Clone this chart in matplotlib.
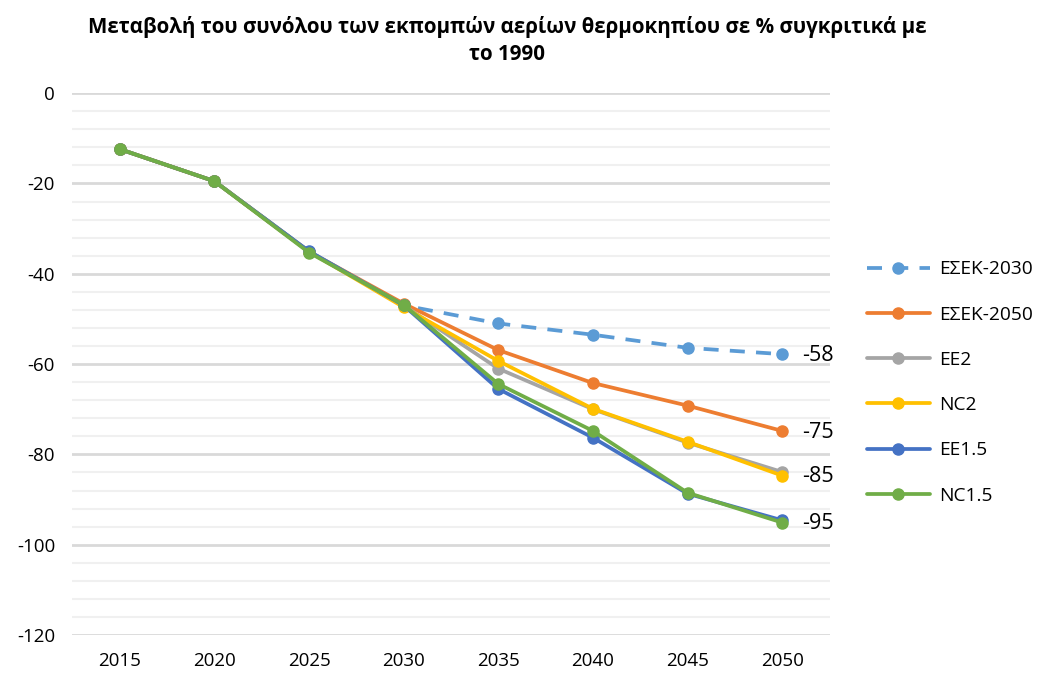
import matplotlib
matplotlib.use("Agg")
import matplotlib.pyplot as plt
import numpy as np
from matplotlib.ticker import MultipleLocator

plt.rcParams['font.family'] = ['Open Sans', 'DejaVu Sans']
plt.rcParams['axes.unicode_minus'] = False

years = ['2015', '2020', '2025', '2030', '2035', '2040', '2045', '2050']
series_names = ['ΕΣΕΚ-2030', 'ΕΣΕΚ-2050', 'EE2', 'NC2', 'EE1.5', 'NC1.5']
esek2030 = [-12.4, -19.5, -35.1, -47.0, -51.0, -53.5, -56.4, -57.8]
esek2050 = [-12.4, -19.5, -35.1, -46.6, -56.9, -64.2, -69.2, -74.8]
ee2 = [-12.4, -19.5, -35.1, -47.0, -61.0, -70.0, -77.4, -83.9]
nc2 = [-12.4, -19.5, -35.1, -47.4, -59.3, -69.9, -77.2, -84.7]
ee15 = [-12.4, -19.5, -35.0, -47.0, -65.5, -76.3, -88.7, -94.6]
nc15 = [-12.4, -19.5, -35.3, -46.9, -64.4, -74.8, -88.5, -95.1]
end_labels = {'ΕΣΕΚ-2030': '-58', 'ΕΣΕΚ-2050': '-75', 'NC2': '-85', 'NC1.5': '-95'}

colors = ['#5B9BD5', '#ED7D31', '#A5A5A5', '#FFC000', '#4472C4', '#70AD47']
data = [esek2030, esek2050, ee2, nc2, ee15, nc15]

fig = plt.figure(figsize=(10.5, 6.79), dpi=100)
ax = fig.add_axes([0.069, 0.0648, 0.721, 0.798])
x = np.arange(len(years))

for name, vals, c in zip(series_names, data, colors):
    ls = (0, (4, 3)) if name == 'ΕΣΕΚ-2030' else '-'
    ax.plot(x, vals, color=c, lw=2.7, ls=ls, marker='o', ms=8, label=name,
            solid_capstyle='round', zorder=3)

for name, vals in zip(series_names, data):
    if name in end_labels:
        ax.annotate(end_labels[name], (x[-1], vals[-1]), xytext=(14, -1),
                    textcoords='offset points', va='center', ha='left',
                    fontsize=15.5, color='#000000')

ax.set_xlim(-0.5, len(years) - 0.5)
ax.set_ylim(-120, 0)
ax.set_xticks(x)
ax.set_xticklabels(years)
ax.yaxis.set_major_locator(MultipleLocator(20))
ax.yaxis.set_minor_locator(MultipleLocator(4))
ax.grid(axis='y', which='major', color='#d9d9d9', lw=2.0, zorder=0)
ax.grid(axis='y', which='minor', color='#f0f0f0', lw=1.5, zorder=0)
ax.set_axisbelow(True)
for s in ax.spines.values():
    s.set_visible(False)
ax.tick_params(axis='both', which='both', length=0, labelsize=13.5, colors='#000000')
ax.tick_params(axis='y', pad=12.5)
ax.tick_params(axis='x', pad=12)

fig.suptitle('Μεταβολή του συνόλου των εκπομπών αερίων θερμοκηπίου σε % συγκριτικά με\nτο 1990',
             x=0.483, y=0.977, fontsize=14.8, fontweight='bold', linespacing=1.4)

ax.legend(loc='center left', bbox_to_anchor=(0.818, 0.4367), bbox_transform=fig.transFigure,
          frameon=False, fontsize=13.8, labelspacing=1.42, handlelength=3.3,
          handletextpad=0.5, borderaxespad=0)

fig.savefig('out.png', dpi=100)
